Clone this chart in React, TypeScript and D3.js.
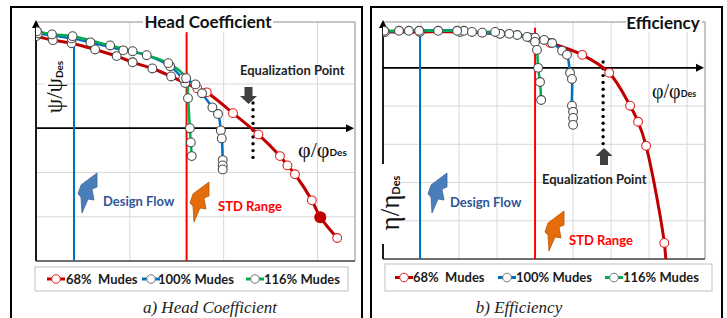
import React from "react";
import * as d3 from "d3";

// ---------------- data ----------------
// Panel a) Head coefficient  (x: φ/φDes in grid units, y: ψ/ψDes in grid units)
const head68X = [0.0, 0.18, 0.38, 0.63, 0.86, 1.03, 1.24, 1.44, 1.59, 1.72, 1.82, 2.1, 2.37, 2.6, 2.68, 2.76, 2.94, 3.03, 3.21];
const head68Y = [2.08, 1.99, 1.92, 1.78, 1.63, 1.49, 1.35, 1.17, 1.02, 0.9, 0.81, 0.34, -0.14, -0.63, -0.84, -1.04, -1.63, -2.01, -2.48];
const head100X = [0.02, 0.38, 0.58, 0.93, 1.18, 1.43, 1.57, 1.7, 1.77, 1.88, 1.94, 1.97, 1.98, 1.99, 1.99, 1.99];
const head100Y = [2.14, 2.03, 1.94, 1.76, 1.65, 1.4, 1.13, 0.99, 0.79, 0.47, 0.32, -0.05, -0.23, -0.72, -0.84, -0.93];
const head116X = [0.01, 0.17, 0.39, 0.79, 1.03, 1.41, 1.6, 1.62, 1.64, 1.65, 1.66];
const head116Y = [2.19, 2.12, 2.08, 1.87, 1.74, 1.47, 1.13, 0.68, 0.0, -0.32, -0.63];
const headHighlight = [17];

// Panel b) Efficiency  (x: φ/φDes in grid units, y: η/ηDes in grid units)
const eff68X = [0.03, 0.97, 2.03, 3.08, 3.87, 4.4, 5.24, 5.95, 6.5, 6.71, 6.92, 7.4, 7.45];
const eff68Y = [0.94, 0.94, 0.94, 0.89, 0.79, 0.65, 0.34, -0.13, -0.99, -1.41, -2.04, -4.58, -5.3];
const eff100X = [0.05, 0.68, 2.13, 2.61, 3.08, 3.53, 4.0, 4.24, 4.45, 4.71, 4.84, 4.92, 4.97, 4.97, 5.0, 5.0, 5.0];
const eff100Y = [0.94, 0.97, 0.97, 0.92, 0.89, 0.86, 0.79, 0.73, 0.65, 0.45, 0.34, -0.13, -0.29, -0.99, -1.15, -1.31, -1.49];
const eff116X = [0.03, 0.42, 0.95, 1.45, 1.95, 2.34, 2.95, 3.32, 3.79, 4.0, 4.05, 4.08, 4.13, 4.16];
const eff116Y = [0.97, 0.97, 0.97, 0.97, 0.97, 0.94, 0.94, 0.89, 0.81, 0.68, 0.47, 0.0, -0.37, -0.84];

const seriesNames = ["68%  Mudes", "100% Mudes", "116% Mudes"];
const panelTitles = ["Head Coefficient", "Efficiency"];
const captions = ["a) Head Coefficient", "b) Efficiency"];
// reference lines (grid units): design flow, STD range limit, equalization point
const headRefs = [0.405, 1.605, 2.313];
const effRefs = [0.974, 4.0, 5.79];

// ---------------- styles ----------------
const SANS = "Lato, 'Open Sans', sans-serif";
const SERIF = "'Liberation Serif', 'DejaVu Serif', serif";
const RED = "#c00000";
const BLUE = "#0070c0";
const GREEN = "#00b050";
const GRID = "#d9d9d9";

type Ser = { xs: number[]; ys: number[]; color: string; width: number; redMarks?: boolean; hi?: number[] };

function Lightning({ x, y, color }: { x: number; y: number; color: string }) {
  const pts = [[19, 0], [19, 14], [14, 16], [16, 27], [10, 26], [4, 40], [3, 24], [0, 21], [3, 12]];
  return (
    <polygon
      points={pts.map(([a, b]) => `${x + a},${y + b}`).join(" ")}
      fill={color}
      stroke={d3.color(color)!.darker(0.6).toString()}
      strokeWidth={0.8}
    />
  );
}

function BlockArrow({ cx, tip, dir }: { cx: number; tip: number; dir: 1 | -1 }) {
  // dir 1: pointing down (tip below), -1: pointing up
  const hh = 8, hw = 8.5, sw = 4, sl = 9;
  const b = tip - dir * hh;
  const e = b - dir * sl;
  const pts = [[cx, tip], [cx + hw, b], [cx + sw, b], [cx + sw, e], [cx - sw, e], [cx - sw, b], [cx - hw, b]];
  return <polygon points={pts.map((p) => p.join(",")).join(" ")} fill="#404040" />;
}

function Panel(props: {
  id: string;
  frameX: number;
  x: d3.ScaleLinear<number, number>;
  y: d3.ScaleLinear<number, number>;
  xGrid: number[];
  yGrid: number[];
  series: Ser[];
  refs: number[];
  refTop: number;
  eqRange: [number, number];
  children?: React.ReactNode;
}) {
  const { id, frameX, x, y, xGrid, yGrid, series, refs, refTop } = props;
  const [x0, x1] = x.range();
  const [y1, y0] = y.range();
  const line = d3
    .line<[number, number]>()
    .x((d) => x(d[0]))
    .y((d) => y(d[1]))
    .curve(d3.curveCatmullRom.alpha(0.5));
  const ax = x(0);
  const ay = y(0);
  const dots: number[] = [];
  for (let v = props.eqRange[0]; v <= props.eqRange[1] + 1e-6; v += 6.8) dots.push(v);
  return (
    <g>
      <rect x={frameX} y={7} width={351} height={340} fill="none" stroke="#000" strokeWidth={2} />
      <defs>
        <clipPath id={id}>
          <rect x={x0} y={y0 - 12} width={x1 - x0} height={y1 - y0 + 12} />
        </clipPath>
      </defs>
      {xGrid.map((g) => (
        <line key={"xg" + g} x1={x(g)} x2={x(g)} y1={y0} y2={y1} stroke={GRID} strokeWidth={1} />
      ))}
      {yGrid.map((g) => (
        <line key={"yg" + g} x1={x0} x2={x1} y1={y(g)} y2={y(g)} stroke={GRID} strokeWidth={1} />
      ))}
      <line x1={x0} x2={x1} y1={y0} y2={y0} stroke="#8c8c8c" strokeWidth={1} />
      <line x1={x1} x2={x1} y1={y0} y2={y1} stroke="#8c8c8c" strokeWidth={1} />
      <line x1={x0} x2={x1} y1={y1} y2={y1} stroke="#404040" strokeWidth={1.5} />
      {/* axes */}
      <line x1={ax} x2={ax} y1={y1} y2={y0 + 4} stroke="#000" strokeWidth={1.8} />
      <polygon points={`${ax},${y0 - 2} ${ax - 4},${y0 + 6} ${ax + 4},${y0 + 6}`} fill="#000" />
      <line x1={x0} x2={x1 - 5} y1={ay} y2={ay} stroke="#000" strokeWidth={1.8} />
      <polygon points={`${x1 - 1},${ay} ${x1 - 9},${ay - 4} ${x1 - 9},${ay + 4}`} fill="#000" />
      {/* design flow & STD lines */}
      <line x1={x(refs[0])} x2={x(refs[0])} y1={y(refTop)} y2={y1} stroke={BLUE} strokeWidth={2} />
      <line x1={x(refs[1])} x2={x(refs[1])} y1={y(refTop)} y2={y1} stroke="#ff0000" strokeWidth={2} />
      {/* equalization dots */}
      {dots.map((d) => (
        <circle key={"d" + d} cx={x(refs[2])} cy={d} r={1.7} fill="#000" />
      ))}
      <g clipPath={`url(#${id})`}>
        {series.map((s, i) => (
          <path
            key={"l" + i}
            d={line(s.xs.map((v, j) => [v, s.ys[j]] as [number, number])) || ""}
            fill="none"
            stroke={s.color}
            strokeWidth={s.width}
          />
        ))}
        {series.map((s, i) =>
          s.xs.map((v, j) => {
            const hi = s.hi && s.hi.includes(j);
            const red = s.redMarks && v > refs[1] + 0.1;
            return (
              <circle
                key={"m" + i + "_" + j}
                cx={x(v)}
                cy={y(s.ys[j])}
                r={hi ? 5.5 : 4.4}
                fill={hi ? RED : "#fff"}
                stroke={hi ? RED : red ? "#e02020" : "#4d4d4d"}
                strokeWidth={1.1}
              />
            );
          })
        )}
      </g>
      {props.children}
    </g>
  );
}

function Legend({ x, y, w, h, items }: { x: number; y: number; w: number; h: number; items: { mx: number; tx: number; color: string; mk: string; label: string }[] }) {
  const cy = y + h / 2;
  return (
    <g>
      <rect x={x} y={y} width={w} height={h} fill="#fff" stroke="#bfbfbf" strokeWidth={1} />
      {items.map((it, i) => (
        <g key={i}>
          <line x1={it.mx - 9} x2={it.mx + 9} y1={cy} y2={cy} stroke={it.color} strokeWidth={3} />
          <circle cx={it.mx} cy={cy} r={4.3} fill="#fff" stroke={it.mk} strokeWidth={1} />
          <text x={it.tx} y={cy + 4.5} fontFamily={SANS} fontWeight={700} fontSize={13} fill="#1a1a1a" style={{ whiteSpace: "pre" }}>
            {it.label}
          </text>
        </g>
      ))}
    </g>
  );
}

export default function App() {
  const xL = d3.scaleLinear().domain([0, 3.4]).range([36, 355]);
  const yL = d3.scaleLinear().domain([-3, 2.4]).range([261, 22]);
  const xR = d3.scaleLinear().domain([0, 8.47]).range([383, 705]);
  const yR = d3.scaleLinear().domain([-5, 1.2]).range([259, 22]);

  const headSeries: Ser[] = [
    { xs: head68X, ys: head68Y, color: RED, width: 3, redMarks: true, hi: headHighlight },
    { xs: head100X, ys: head100Y, color: BLUE, width: 2.5 },
    { xs: head116X, ys: head116Y, color: GREEN, width: 2.5 },
  ];
  const effSeries: Ser[] = [
    { xs: eff68X, ys: eff68Y, color: RED, width: 3, redMarks: true },
    { xs: eff100X, ys: eff100Y, color: BLUE, width: 2.5 },
    { xs: eff116X, ys: eff116Y, color: GREEN, width: 2.5 },
  ];
  const markerStroke = ["#e02020", "#777", "#777"];
  const colors = [RED, BLUE, GREEN];

  return (
    <svg width={727} height={318} style={{ position: "absolute", left: 0, top: 0, background: "#fff" }}>
      <rect width={727} height={318} fill="#fff" />
      {/* ---------- Panel a ---------- */}
      <Panel id="clipA" frameX={11} x={xL} y={yL} xGrid={[1, 2, 3]} yGrid={[1, -1, -2]} series={headSeries} refs={headRefs} refTop={2.17} eqRange={[103, 158]}>
        <rect x={143} y={14} width={130} height={18} fill="#fff" />
        <text x={208} y={28} textAnchor="middle" fontFamily={SANS} fontWeight={700} fontSize={17} fill="#111">
          {panelTitles[0]}
        </text>
        <text x={240} y={75} fontFamily={SANS} fontWeight={700} fontSize={13} fill="#222">
          Equalization Point
        </text>
        <BlockArrow cx={248.5} tip={104} dir={1} />
        <rect x={45} y={57} width={21} height={59} fill="#fff" />
        <text transform="translate(62,87) rotate(-90)" textAnchor="middle" fill="#111">
          <tspan fontFamily={SERIF} fontSize={23}>ψ/ψ</tspan>
          <tspan fontFamily={SANS} fontWeight={700} fontSize={10} dy={1}>Des</tspan>
        </text>
        <text x={298} y={157} fill="#111">
          <tspan fontFamily={SERIF} fontSize={22}>φ/φ</tspan>
          <tspan fontFamily={SANS} fontWeight={700} fontSize={10} dy={-1}>Des</tspan>
        </text>
        <Lightning x={78} y={173} color="#4a7ebb" />
        <text x={103} y={206} fontFamily={SANS} fontWeight={700} fontSize={13} fill="#2f5597">
          Design Flow
        </text>
        <Lightning x={190} y={182} color="#e46c0a" />
        <text x={218} y={211} fontFamily={SANS} fontWeight={700} fontSize={13} fill="#ff0000">
          STD Range
        </text>
      </Panel>
      <Legend
        x={35}
        y={267}
        w={313}
        h={24}
        items={[0, 1, 2].map((i) => ({ mx: [56, 151, 255][i], tx: [66, 158, 264][i], color: colors[i], mk: markerStroke[i], label: seriesNames[i] }))}
      />
      <text x={210} y={313} textAnchor="middle" fontFamily={SERIF} fontStyle="italic" fontSize={17} fill="#222">
        {captions[0]}
      </text>

      {/* ---------- Panel b ---------- */}
      <Panel id="clipB" frameX={371} x={xR} y={yR} xGrid={[1, 2, 3, 4, 5, 6, 7, 8]} yGrid={[-1, -2, -3, -4]} series={effSeries} refs={effRefs} refTop={1.05} eqRange={[62, 145]}>
        <rect x={626} y={14} width={76} height={18} fill="#fff" />
        <text x={663} y={29} textAnchor="middle" fontFamily={SANS} fontWeight={700} fontSize={17} fill="#111">
          {panelTitles[1]}
        </text>
        <text x={542} y={184} fontFamily={SANS} fontWeight={700} fontSize={13} fill="#222">
          Equalization Point
        </text>
        <BlockArrow cx={604} tip={148} dir={-1} />
        <rect x={379} y={164} width={22} height={80} fill="#fff" />
        <text transform="translate(399,203) rotate(-90)" textAnchor="middle" fill="#111">
          <tspan fontFamily={SERIF} fontSize={27}>η/η</tspan>
          <tspan fontFamily={SANS} fontWeight={700} fontSize={11} dy={1}>Des</tspan>
        </text>
        <text x={652} y={98} fill="#111">
          <tspan fontFamily={SERIF} fontSize={20}>φ/φ</tspan>
          <tspan fontFamily={SANS} fontWeight={700} fontSize={9} dy={-1}>Des</tspan>
        </text>
        <Lightning x={428} y={173} color="#4a7ebb" />
        <text x={450} y={207} fontFamily={SANS} fontWeight={700} fontSize={13} fill="#2f5597">
          Design Flow
        </text>
        <Lightning x={545} y={211} color="#e46c0a" />
        <text x={569} y={245} fontFamily={SANS} fontWeight={700} fontSize={13} fill="#ff0000">
          STD Range
        </text>
      </Panel>
      <Legend
        x={385}
        y={264}
        w={327}
        h={27}
        items={[0, 1, 2].map((i) => ({ mx: [404, 507, 614][i], tx: [413, 516, 623][i], color: colors[i], mk: markerStroke[i], label: seriesNames[i] }))}
      />
      <text x={519} y={313} textAnchor="middle" fontFamily={SERIF} fontStyle="italic" fontSize={17} fill="#222">
        {captions[1]}
      </text>
    </svg>
  );
}
